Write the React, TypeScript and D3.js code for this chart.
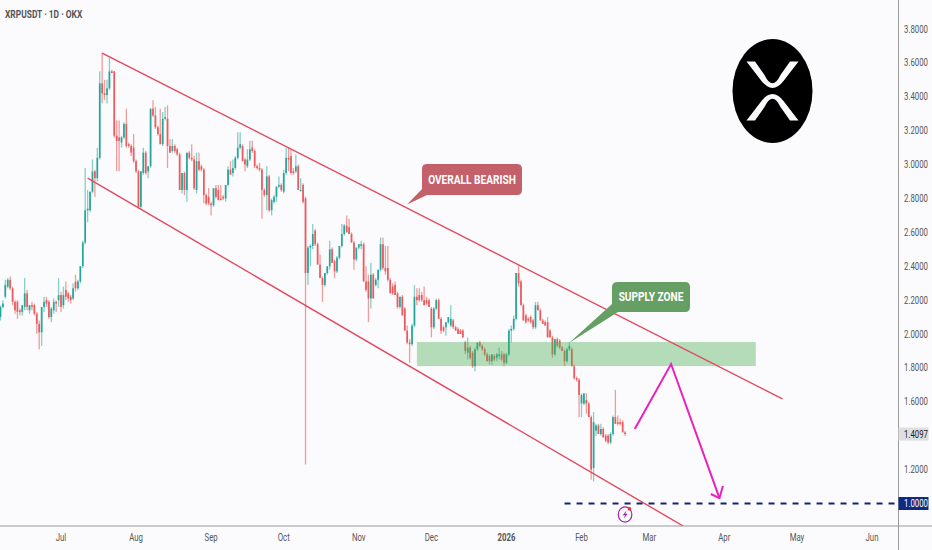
import React from 'react';
import * as d3 from 'd3';

// daily candles, first one is 2025-06-06
const firstDay = new Date(2025, 5, 6);

const opens = [
  2.10,2.16,2.22,2.28,2.32,2.27,2.19,2.19,2.14,2.13,
  2.16,2.24,2.14,2.17,2.17,2.12,2.06,2.01,2.16,2.20,
  2.19,2.10,2.14,2.19,2.20,2.23,2.17,2.26,2.24,2.22,
  2.21,2.31,2.27,2.31,2.40,2.54,2.73,2.73,2.84,2.96,
  2.92,3.04,3.48,3.42,3.41,3.45,3.55,3.55,3.17,3.16,
  3.13,3.16,3.24,3.12,3.11,3.10,3.02,2.96,2.75,2.95,
  3.07,2.96,2.99,3.33,3.29,3.22,3.18,3.12,3.27,3.27,
  3.11,3.08,3.11,3.09,3.06,2.85,2.95,2.85,3.07,3.04,
  3.03,2.85,3.02,2.99,2.97,2.82,2.81,2.77,2.76,2.86,
  2.85,2.80,2.81,2.80,2.88,2.97,2.95,2.98,3.04,3.10,
  3.11,3.03,2.99,3.03,3.10,3.08,2.99,2.98,2.97,2.85,
  2.82,2.93,2.73,2.78,2.81,2.87,2.88,2.84,2.95,3.04,
  3.05,2.96,2.96,2.99,2.85,2.88,2.80,2.36,2.51,2.52,
  2.61,2.53,2.41,2.33,2.29,2.36,2.40,2.50,2.43,2.37,
  2.45,2.52,2.59,2.64,2.63,2.59,2.54,2.44,2.51,2.52,
  2.53,2.31,2.31,2.21,2.35,2.29,2.32,2.38,2.53,2.39,
  2.39,2.32,2.28,2.29,2.24,2.16,2.22,2.15,2.02,1.95,
  1.94,2.05,2.22,2.23,2.23,2.20,2.20,2.20,2.15,2.04,
  2.15,2.20,2.09,2.04,2.04,2.07,2.05,2.08,2.04,2.03,
  2.02,2.02,1.95,1.89,1.92,1.89,1.81,1.91,1.95,1.93,
  1.91,1.88,1.87,1.84,1.87,1.86,1.87,1.88,1.88,1.83,
  1.88,2.02,2.03,2.09,2.36,2.31,2.17,2.11,2.09,2.10,
  2.08,2.04,2.17,2.14,2.08,2.07,2.07,2.02,1.98,1.88,
  1.97,1.96,1.92,1.90,1.84,1.91,1.91,1.81,1.74,
  1.73,1.59,1.59,1.61,1.59,1.51,1.21,1.43,1.46,1.41,
  1.44,1.40,1.40,1.36,1.41,1.51,1.48,1.48,1.48,1.42,
];
const highs = [
  2.17,2.20,2.32,2.33,2.34,2.28,2.20,2.20,2.15,2.17,
  2.33,2.26,2.17,2.19,2.18,2.13,2.08,2.16,2.22,2.22,
  2.20,2.16,2.21,2.20,2.33,2.25,2.28,2.31,2.25,2.23,
  2.30,2.35,2.32,2.40,2.55,2.98,2.85,2.84,3.03,2.97,
  3.10,3.55,3.66,3.50,3.50,3.63,3.56,3.55,3.26,3.26,
  3.17,3.25,3.33,3.13,3.12,3.18,3.03,2.97,2.96,3.10,
  3.08,2.99,3.33,3.38,3.34,3.23,3.33,3.31,3.34,3.35,
  3.15,3.15,3.12,3.10,3.07,2.95,2.96,3.07,3.08,3.12,
  3.05,3.07,3.07,3.00,2.98,2.83,2.86,2.78,2.86,2.88,
  2.88,2.88,2.82,2.88,2.99,3.02,3.03,3.05,3.19,3.19,
  3.12,3.04,3.09,3.14,3.14,3.09,3.00,3.01,2.98,2.86,
  2.99,2.94,2.80,2.82,2.87,2.93,2.89,2.97,3.10,3.10,
  3.09,2.98,3.06,3.00,2.92,2.89,2.81,2.52,2.53,2.65,
  2.62,2.54,2.47,2.34,2.36,2.40,2.55,2.51,2.44,2.46,
  2.52,2.65,2.65,2.70,2.68,2.60,2.55,2.51,2.53,2.55,
  2.54,2.40,2.35,2.42,2.36,2.33,2.38,2.57,2.57,2.52,
  2.52,2.33,2.30,2.31,2.25,2.22,2.23,2.16,2.05,1.97,
  2.06,2.29,2.27,2.27,2.25,2.28,2.22,2.21,2.16,2.16,
  2.21,2.21,2.10,2.05,2.07,2.10,2.17,2.09,2.05,2.04,
  2.03,2.03,1.96,1.98,1.93,1.90,1.92,1.95,1.96,1.94,
  1.92,1.89,1.88,1.88,1.88,1.89,1.92,1.90,1.89,1.89,
  2.03,2.05,2.11,2.36,2.41,2.32,2.18,2.12,2.10,2.11,
  2.09,2.19,2.19,2.15,2.09,2.08,2.10,2.03,1.99,1.97,
  1.98,1.97,1.93,1.91,1.92,1.95,1.92,1.82,1.75,
  1.74,1.65,1.65,1.65,1.60,1.52,1.54,1.47,1.47,1.47,
  1.45,1.41,1.41,1.42,1.52,1.67,1.52,1.50,1.49,1.43,
];
const lows = [
  2.08,2.15,2.21,2.27,2.26,2.17,2.12,2.09,2.11,2.11,
  2.14,2.14,2.12,2.14,2.11,2.00,1.91,1.93,2.13,2.16,
  2.09,2.07,2.12,2.13,2.16,2.13,2.15,2.20,2.19,2.18,
  2.20,2.25,2.26,2.30,2.39,2.53,2.66,2.72,2.83,2.81,
  2.90,3.03,3.36,3.38,3.36,3.44,3.54,3.16,2.96,2.96,
  3.10,3.15,3.10,3.10,3.05,3.01,2.95,2.74,2.74,2.94,
  2.94,2.92,2.98,3.28,3.21,3.17,3.12,3.11,3.26,2.98,
  3.07,3.07,3.07,3.05,2.85,2.83,2.82,2.78,3.03,3.02,
  2.85,2.83,2.96,2.96,2.77,2.76,2.76,2.70,2.75,2.80,
  2.79,2.79,2.79,2.78,2.87,2.94,2.93,2.97,3.03,3.09,
  3.02,2.96,2.98,3.02,3.07,2.98,2.97,2.96,2.68,2.81,
  2.73,2.72,2.70,2.77,2.78,2.86,2.84,2.83,2.94,2.96,
  2.94,2.94,2.95,2.85,2.84,2.77,1.23,2.29,2.40,2.50,
  2.52,2.41,2.33,2.19,2.28,2.35,2.38,2.42,2.33,2.36,
  2.44,2.51,2.58,2.60,2.59,2.54,2.38,2.43,2.50,2.50,
  2.31,2.25,2.07,2.15,2.21,2.28,2.27,2.37,2.38,2.35,
  2.31,2.24,2.23,2.23,2.15,2.15,2.11,2.02,1.94,1.83,
  1.93,2.04,2.17,2.19,2.19,2.17,2.17,2.16,1.98,2.03,
  2.14,2.09,2.00,2.01,1.99,2.06,2.04,2.03,2.02,2.00,
  2.00,1.98,1.88,1.85,1.85,1.80,1.78,1.90,1.92,1.90,
  1.87,1.84,1.82,1.82,1.84,1.84,1.85,1.84,1.81,1.82,
  1.87,1.95,2.02,2.08,2.28,2.17,2.08,2.06,2.07,2.06,
  2.03,2.03,2.14,2.08,2.06,2.05,1.98,1.98,1.86,1.87,
  1.92,1.91,1.90,1.81,1.83,1.90,1.81,1.73,1.72,
  1.51,1.51,1.58,1.53,1.51,1.14,1.13,1.40,1.41,1.40,
  1.39,1.36,1.35,1.35,1.40,1.47,1.46,1.46,1.42,1.40,
];
const closes = [
  2.16,2.18,2.29,2.32,2.27,2.19,2.14,2.13,2.13,2.17,
  2.24,2.16,2.17,2.16,2.12,2.06,2.01,2.16,2.19,2.18,
  2.10,2.15,2.19,2.18,2.23,2.16,2.23,2.22,2.21,2.20,
  2.27,2.27,2.31,2.40,2.54,2.73,2.74,2.84,2.96,2.92,
  3.04,3.48,3.42,3.41,3.45,3.55,3.54,3.17,3.14,3.14,
  3.16,3.24,3.11,3.11,3.07,3.02,2.96,2.75,2.96,3.07,
  2.95,2.99,3.33,3.29,3.22,3.18,3.12,3.27,3.28,3.11,
  3.07,3.11,3.08,3.06,2.85,2.95,2.85,3.07,3.04,3.03,
  2.86,3.02,2.97,2.97,2.82,2.77,2.77,2.76,2.86,2.81,
  2.79,2.79,2.80,2.88,2.97,2.94,2.98,3.04,3.10,3.12,
  3.02,3.00,3.03,3.09,3.08,2.99,2.98,2.97,2.85,2.82,
  2.93,2.73,2.79,2.81,2.87,2.88,2.85,2.95,3.04,3.03,
  2.95,2.95,2.99,2.85,2.85,2.78,2.36,2.51,2.52,2.59,
  2.53,2.41,2.33,2.29,2.36,2.40,2.50,2.42,2.37,2.45,
  2.52,2.59,2.64,2.60,2.59,2.54,2.44,2.51,2.53,2.53,
  2.31,2.26,2.21,2.35,2.21,2.32,2.38,2.53,2.39,2.37,
  2.32,2.24,2.24,2.23,2.16,2.22,2.11,2.02,1.95,1.94,
  2.05,2.22,2.20,2.20,2.20,2.17,2.18,2.16,2.04,2.15,
  2.20,2.09,2.02,2.02,2.07,2.10,2.09,2.04,2.02,2.00,
  2.00,1.98,1.90,1.92,1.86,1.81,1.91,1.95,1.93,1.91,
  1.88,1.84,1.84,1.88,1.85,1.88,1.88,1.85,1.83,1.88,
  2.02,2.03,2.09,2.36,2.30,2.17,2.08,2.07,2.08,2.07,
  2.04,2.17,2.14,2.08,2.06,2.05,1.98,1.98,1.88,1.97,
  1.93,1.92,1.90,1.84,1.91,1.93,1.81,1.74,1.73,
  1.64,1.64,1.65,1.59,1.51,1.20,1.48,1.46,1.41,1.44,
  1.39,1.37,1.36,1.41,1.51,1.47,1.47,1.47,1.42,1.41,
];

const priceTicks = [1.2, 1.4, 1.6, 1.8, 2.0, 2.2, 2.4, 2.6, 2.8, 3.0, 3.2, 3.4, 3.6, 3.8];
const monthTicks: [string, Date][] = [
  ['Jul', new Date(2025, 6, 1)],
  ['Aug', new Date(2025, 7, 1)],
  ['Sep', new Date(2025, 8, 1)],
  ['Oct', new Date(2025, 9, 1)],
  ['Nov', new Date(2025, 10, 1)],
  ['Dec', new Date(2025, 11, 1)],
  ['2026', new Date(2026, 0, 1)],
  ['Feb', new Date(2026, 1, 1)],
  ['Mar', new Date(2026, 2, 1)],
  ['Apr', new Date(2026, 3, 1)],
  ['May', new Date(2026, 4, 1)],
  ['Jun', new Date(2026, 5, 1)],
];

// drawings on the chart, as [date, price]
const upperChannel: [Date, number][] = [[new Date(2025, 6, 18), 3.658], [new Date(2026, 3, 25), 1.617]];
const lowerChannel: [Date, number][] = [[new Date(2025, 6, 12), 2.92], [new Date(2026, 2, 15), 0.867]];
const forecast: [Date, number][] = [
  [new Date(2026, 1, 23), 1.44],
  [new Date(2026, 2, 10), 1.823],
  [new Date(2026, 2, 30), 1.032],
];
const arrowHead: [Date, number][] = [
  [new Date(2026, 2, 26, 10), 1.056],
  [new Date(2026, 2, 30), 1.032],
  [new Date(2026, 2, 31, 10), 1.103],
];
const zoneDays: [Date, Date] = [new Date(2025, 10, 25), new Date(2026, 3, 14)];
const zonePrices: [number, number] = [1.811, 1.953];
const keyLevel = 1.0;
const keyLevelFrom = new Date(2026, 0, 25);
const lastPrice = 1.4097;

const WIDTH = 932;
const HEIGHT = 550;
const AXIS_X = 898.5;
const AXIS_Y = 526;

const x = d3.scaleTime().domain([new Date(2025, 6, 1), new Date(2026, 5, 1)]).range([61, 872]);
const y = d3.scaleLinear().domain([1, 3.8]).range([503.5, 29]);

const drawn = d3.line<[Date, number]>().x(d => x(d[0])).y(d => y(d[1]));

// the whole picture is squeezed sideways, so the text is too
const Label = ({ px, py, size, fill, weight, anchor, children }: any) => (
  <text
    transform={`translate(${px},${py}) scale(0.78,1)`}
    fontFamily="Roboto, sans-serif"
    fontSize={size}
    fill={fill}
    fontWeight={weight || 400}
    textAnchor={anchor || 'middle'}
  >
    {children}
  </text>
);

export default function App() {
  const up = '#26a69a';
  const down = '#ec5a5e';
  const candles = closes.map((c, i) => ({
    date: d3.timeDay.offset(firstDay, i),
    open: opens[i],
    high: highs[i],
    low: lows[i],
    close: c,
  }));

  return (
    <svg
      width={WIDTH}
      height={HEIGHT}
      style={{ position: 'fixed', left: 0, top: 0, background: '#fbfbfd' }}
    >
      <defs>
        <clipPath id="plot">
          <rect x={0} y={0} width={AXIS_X} height={AXIS_Y} />
        </clipPath>
      </defs>

      <g clipPath="url(#plot)">
        {candles.map((d, i) => {
          const cx = x(d.date);
          const rising = d.close >= d.open;
          const top = y(Math.max(d.open, d.close));
          const bottom = y(Math.min(d.open, d.close));
          return (
            <g key={i}>
              <line
                x1={cx}
                x2={cx}
                y1={y(d.high)}
                y2={y(d.low)}
                stroke={rising ? '#84cfc8' : '#f29b9b'}
                strokeWidth={1.3}
              />
              <rect
                x={cx - 0.85}
                y={top}
                width={1.7}
                height={Math.max(bottom - top, 1)}
                fill={rising ? up : down}
              />
            </g>
          );
        })}

        <rect
          x={x(zoneDays[0])}
          y={y(zonePrices[1])}
          width={x(zoneDays[1]) - x(zoneDays[0])}
          height={y(zonePrices[0]) - y(zonePrices[1])}
          fill="#4caf50"
          fillOpacity={0.4}
        />

        <path d={drawn(upperChannel) as string} fill="none" stroke="#e2495f" strokeWidth={1.4} />
        <path d={drawn(lowerChannel) as string} fill="none" stroke="#e2495f" strokeWidth={1.4} />

        <line
          x1={x(keyLevelFrom)}
          x2={AXIS_X}
          y1={y(keyLevel)}
          y2={y(keyLevel)}
          stroke="#14246e"
          strokeWidth={1.8}
          strokeDasharray="6 6"
        />

        <path d={drawn(forecast) as string} fill="none" stroke="#ea1fc0" strokeWidth={2} />
        <path d={drawn(arrowHead) as string} fill="none" stroke="#ea1fc0" strokeWidth={2} />
      </g>

      {/* callouts */}
      <path
        d="M427,164 H517 Q522,164 522,169 V190 Q522,195 517,195 H427 L407,204.5 L422,189 V169 Q422,164 427,164 Z"
        fill="#c4606a"
      />
      <Label px={472} py={184} size={13} fill="#fff" weight={700}>OVERALL BEARISH</Label>
      <path
        d="M618,282 H685 Q690,282 690,287 V307 Q690,312 685,312 H618 L569,343 L612,304 V287 Q612,282 618,282 Z"
        fill="#669f63"
      />
      <Label px={651} py={301} size={13} fill="#fff" weight={700}>SUPPLY ZONE</Label>

      {/* XRP logo */}
      <g transform="translate(772.5,91)">
        <ellipse cx={0} cy={0} rx={40} ry={52} fill="#000" />
        <path d="M-26,-29.5 H-17.5 L-8,-16 Q0,0.6 8,-16 L17.5,-29.5 H26 L11,-10 Q0,4 -11,-10 Z" fill="#fbfbfd" />
        <path
          d="M-26,-29.5 H-17.5 L-8,-16 Q0,0.6 8,-16 L17.5,-29.5 H26 L11,-10 Q0,4 -11,-10 Z"
          fill="#fbfbfd"
          transform="scale(1,-1)"
        />
      </g>

      {/* lightning badge */}
      <g transform={`translate(${x(new Date(2026, 1, 19))},514.5)`}>
        <ellipse rx={6.8} ry={7.6} fill="#fbfbfd" stroke="#9c27b0" strokeWidth={1.2} />
        <path d="M1.6,-4.2 L-2.4,0.8 H0 L-1.4,4.2 L2.6,-0.8 H0.2 Z" fill="#9c27b0" />
        <circle cx={4.4} cy={-5.6} r={1.8} fill="#e53935" />
      </g>

      <Label px={5} py={18} size={10.8} fill="#555" weight={700} anchor="start">XRPUSDT · 1D · OKX</Label>

      {/* price axis */}
      <line x1={AXIS_X} x2={AXIS_X} y1={0} y2={HEIGHT} stroke="#9a9a9a" strokeWidth={1} />
      <line x1={0} x2={WIDTH} y1={AXIS_Y} y2={AXIS_Y} stroke="#9a9a9a" strokeWidth={1} />
      {priceTicks.map(t => (
        <Label key={t} px={904} py={y(t) + 3.5} size={10} fill="#555" anchor="start">
          {d3.format('.4f')(t)}
        </Label>
      ))}
      <rect x={AXIS_X} y={y(lastPrice) - 6.5} width={30} height={13} fill="#dfdfe1" />
      <Label px={904} py={y(lastPrice) + 3.5} size={10} fill="#222" anchor="start">
        {d3.format('.4f')(lastPrice)}
      </Label>
      <rect x={AXIS_X} y={y(keyLevel) - 6.5} width={30} height={13} fill="#0f2a80" />
      <Label px={904} py={y(keyLevel) + 3.5} size={10} fill="#fff" anchor="start">
        {d3.format('.4f')(keyLevel)}
      </Label>

      {/* time axis */}
      {monthTicks.map(([name, date]) => (
        <Label key={name} px={x(date)} py={541} size={10} fill="#555" weight={name === '2026' ? 700 : 400}>
          {name}
        </Label>
      ))}
    </svg>
  );
}
